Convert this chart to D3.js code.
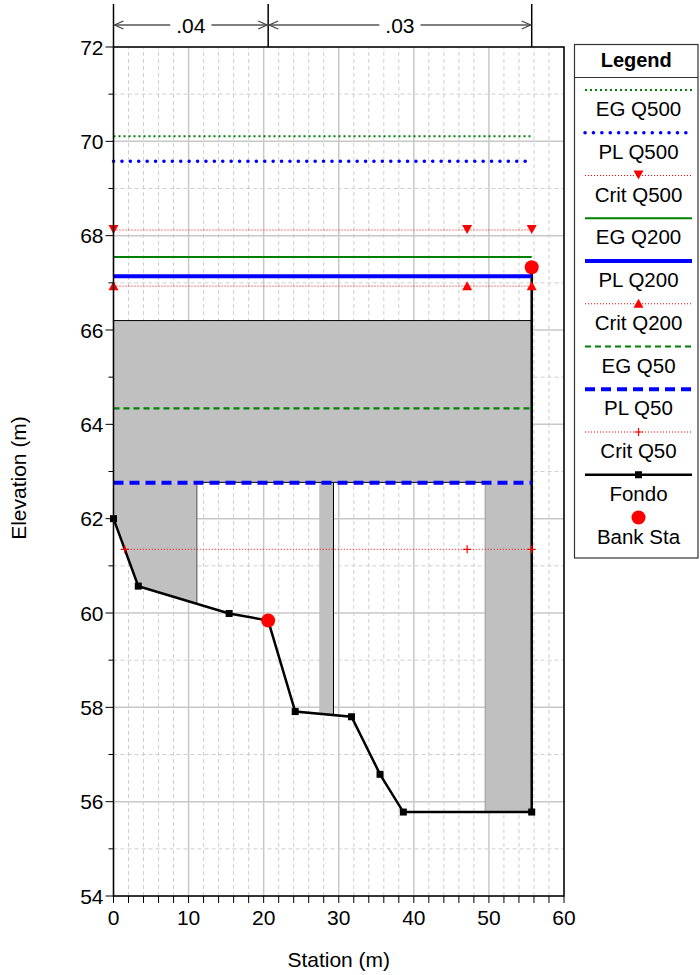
<!DOCTYPE html>
<html>
<head>
<meta charset="utf-8">
<script src="https://cdn.jsdelivr.net/npm/d3@7"></script>
<style>
  body { margin: 0; background: #fff; }
  svg text { font-family: "Liberation Sans", Arial, sans-serif; }
</style>
</head>
<body>
<svg id="chart" width="700" height="975"></svg>
<script>
// ground profile (Fondo)
const groundSta  = [0, 3.3, 15.4, 20.6, 24.2, 31.7, 35.5, 38.6, 55.7, 55.7];
const groundElev = [62.0, 60.57, 59.99, 59.84, 57.91, 57.8, 56.58, 55.78, 55.78, 67.33];

// bank stations
const bankSta  = [20.6, 55.7];
const bankElev = [59.84, 67.33];

// bridge deck, abutments and pier
const deckSta = [0, 55.7];
const highChord = 66.2;
const lowChord = 62.77;
const leftAbutSta = [0, 11.1];
const pierSta = [27.4, 29.3];
const rightAbutSta = [49.5, 55.7];

// water surfaces
const wsNames = ['EG Q500', 'PL Q500', 'Crit Q500', 'EG Q200', 'PL Q200', 'Crit Q200', 'EG Q50', 'PL Q50', 'Crit Q50'];
const wsElev  = [70.11, 69.58, 68.12, 67.55, 67.14, 66.93, 64.34, 62.76, 61.35];
const wsStart = [0, 0, 0, 0, 0, 0, 0, 0, 1.5];
const wsEnd   = 55.7;
const critMarkSta = [[0, 47.1, 55.7], [0, 47.1, 55.7], [1.5, 47.1, 55.7]];

// manning's n
const nBreaks = [0, 20.6, 55.7];
const nValues = ['.04', '.03'];

const xTicks = d3.range(0, 61, 10);
const yTicks = d3.range(54, 73, 2);

const svg = d3.select('#chart');
const x = d3.scaleLinear().domain([0, 60]).range([113.5, 564]);
const y = d3.scaleLinear().domain([54, 72]).range([896, 47]);

const gray = '#c0c0c0';
const styles = {
  'EG Q500':  {stroke: '#008000', width: 2, dash: '2,3'},
  'PL Q500':  {stroke: '#0000ff', width: 3.5, dash: '0.1,8.3', cap: 'round'},
  'Crit Q500':{stroke: '#ff0000', width: 1, dash: '1,2', mark: 'down'},
  'EG Q200':  {stroke: '#008000', width: 2},
  'PL Q200':  {stroke: '#0000ff', width: 4},
  'Crit Q200':{stroke: '#ff0000', width: 1, dash: '1,2', mark: 'up'},
  'EG Q50':   {stroke: '#008000', width: 2.2, dash: '6,4'},
  'PL Q50':   {stroke: '#0000ff', width: 4, dash: '10,6'},
  'Crit Q50': {stroke: '#ff0000', width: 1, dash: '1,2', mark: 'plus'}
};

function groundAt(s) {
  for (let i = 0; i < groundSta.length - 1; i++) {
    const a = groundSta[i], b = groundSta[i + 1];
    if (s >= a && s <= b && b > a) {
      return groundElev[i] + (groundElev[i + 1] - groundElev[i]) * (s - a) / (b - a);
    }
  }
  return groundElev[0];
}

// grid
const grid = svg.append('g');
d3.range(0, 61, 2).forEach(v => {
  grid.append('line').attr('x1', x(v)).attr('x2', x(v)).attr('y1', y(54)).attr('y2', y(72))
    .attr('stroke', v % 10 === 0 ? '#c8c8c8' : '#cfcfcf')
    .attr('stroke-width', v % 10 === 0 ? 1.5 : 1)
    .attr('stroke-dasharray', v % 10 === 0 ? null : '4,3');
});
d3.range(54, 73, 1).forEach(v => {
  grid.append('line').attr('x1', x(0)).attr('x2', x(60)).attr('y1', y(v)).attr('y2', y(v))
    .attr('stroke', v % 2 === 0 ? '#c8c8c8' : '#cfcfcf')
    .attr('stroke-width', v % 2 === 0 ? 1.5 : 1)
    .attr('stroke-dasharray', v % 2 === 0 ? null : '4,3');
});

// bridge
function profileBetween(a, b) {
  const pts = [[a, groundAt(a)]];
  groundSta.forEach((s, i) => { if (s > a && s < b) pts.push([s, groundElev[i]]); });
  pts.push([b, groundAt(b)]);
  return pts;
}
function abutPoly(a, b) {
  const bottom = profileBetween(a, b).reverse();
  return [[a, lowChord], [b, lowChord]].concat(bottom);
}
const line = d3.line().x(d => x(d[0])).y(d => y(d[1]));
const bridge = svg.append('g');
[leftAbutSta, pierSta, rightAbutSta].forEach(p => {
  bridge.append('path').attr('d', line(abutPoly(p[0], p[1])) + 'Z').attr('fill', gray);
});
bridge.append('rect').attr('x', x(deckSta[0])).attr('y', y(highChord))
  .attr('width', x(deckSta[1]) - x(deckSta[0])).attr('height', y(lowChord) - y(highChord))
  .attr('fill', gray);
bridge.append('line').attr('x1', x(deckSta[0])).attr('x2', x(deckSta[1]))
  .attr('y1', y(highChord)).attr('y2', y(highChord)).attr('stroke', '#000').attr('stroke-width', 1);
bridge.append('line').attr('x1', x(leftAbutSta[1])).attr('x2', x(rightAbutSta[0]))
  .attr('y1', y(lowChord)).attr('y2', y(lowChord)).attr('stroke', '#000').attr('stroke-width', 1);
bridge.append('line').attr('x1', x(leftAbutSta[1])).attr('x2', x(leftAbutSta[1]))
  .attr('y1', y(lowChord)).attr('y2', y(groundAt(leftAbutSta[1]))).attr('stroke', '#666').attr('stroke-width', 1.2);
bridge.append('line').attr('x1', x(pierSta[1])).attr('x2', x(pierSta[1]))
  .attr('y1', y(lowChord)).attr('y2', y(groundAt(pierSta[1]))).attr('stroke', '#000').attr('stroke-width', 1);
bridge.append('line').attr('x1', x(rightAbutSta[0])).attr('x2', x(rightAbutSta[0]))
  .attr('y1', y(lowChord)).attr('y2', y(groundAt(rightAbutSta[0]))).attr('stroke', '#999').attr('stroke-width', 1);

// markers
function marker(g, type, cx, cy, color) {
  if (type === 'down') {
    g.append('path').attr('d', `M${cx - 5},${cy - 5}L${cx + 5},${cy - 5}L${cx},${cy + 4}Z`).attr('fill', color);
  } else if (type === 'up') {
    g.append('path').attr('d', `M${cx - 5},${cy + 4}L${cx + 5},${cy + 4}L${cx},${cy - 5}Z`).attr('fill', color);
  } else if (type === 'plus') {
    g.append('path').attr('d', `M${cx - 4},${cy}H${cx + 4}M${cx},${cy - 4}V${cy + 4}`)
      .attr('stroke', color).attr('stroke-width', 1.2);
  } else if (type === 'square') {
    g.append('rect').attr('x', cx - 3.5).attr('y', cy - 3.5).attr('width', 7).attr('height', 7).attr('fill', color);
  } else if (type === 'circle') {
    g.append('circle').attr('cx', cx).attr('cy', cy).attr('r', 7).attr('fill', color);
  }
}

// ground line
const lines = svg.append('g');
lines.append('path').datum(groundSta.map((s, i) => [s, groundElev[i]]))
  .attr('d', line).attr('fill', 'none').attr('stroke', '#000').attr('stroke-width', 2.5)
  .attr('stroke-linejoin', 'miter');
groundSta.forEach((s, i) => marker(lines, 'square', x(s), y(groundElev[i]), '#000'));

// water surfaces
wsNames.forEach((name, i) => {
  const st = styles[name];
  lines.append('line').attr('x1', x(wsStart[i])).attr('x2', x(wsEnd))
    .attr('y1', y(wsElev[i])).attr('y2', y(wsElev[i]))
    .attr('stroke', st.stroke).attr('stroke-width', st.width)
    .attr('stroke-dasharray', st.dash || null)
    .attr('stroke-linecap', st.cap || 'butt');
});
[2, 5, 8].forEach((idx, k) => {
  const st = styles[wsNames[idx]];
  critMarkSta[k].forEach(s => marker(lines, st.mark, x(s), y(wsElev[idx]), '#ff0000'));
});

// bank stations
bankSta.forEach((s, i) => marker(lines, 'circle', x(s), y(bankElev[i]), '#ff0000'));

// frame
svg.append('rect').attr('x', x(0)).attr('y', y(72)).attr('width', x(60) - x(0)).attr('height', y(54) - y(72))
  .attr('fill', 'none').attr('stroke', '#000').attr('stroke-width', 1.5);

// axes
const yAxis = svg.append('g').attr('transform', `translate(${x(0)},0)`);
d3.range(54, 73, 1).forEach(v => {
  yAxis.append('line').attr('x1', v % 2 === 0 ? -8 : -5).attr('x2', 0).attr('y1', y(v)).attr('y2', y(v))
    .attr('stroke', '#000').attr('stroke-width', 1);
});
yAxis.selectAll('text.tick').data(yTicks).join('text')
  .attr('x', -10).attr('y', d => y(d)).attr('dy', '0.36em')
  .attr('text-anchor', 'end').attr('font-size', 21).text(d => d);

const xAxis = svg.append('g').attr('transform', `translate(0,${y(54)})`);
d3.range(0, 61, 2).forEach(v => {
  xAxis.append('line').attr('x1', x(v)).attr('x2', x(v)).attr('y1', 0).attr('y2', 7)
    .attr('stroke', '#000').attr('stroke-width', 1);
});
xAxis.selectAll('text.tick').data(xTicks).join('text')
  .attr('x', d => x(d)).attr('y', 29)
  .attr('text-anchor', 'middle').attr('font-size', 21).text(d => d);

svg.append('text').attr('x', (x(0) + x(60)) / 2).attr('y', 967).attr('text-anchor', 'middle')
  .attr('font-size', 21).text('Station (m)');
svg.append('text').attr('transform', 'translate(26,478) rotate(-90)').attr('text-anchor', 'middle')
  .attr('font-size', 21).text('Elevation (m)');

// manning's n annotation
const nG = svg.append('g');
const arrowY = 25;
nBreaks.forEach(s => {
  nG.append('line').attr('x1', x(s)).attr('x2', x(s)).attr('y1', 4).attr('y2', y(72))
    .attr('stroke', '#000').attr('stroke-width', 1.5);
});
function chevron(px, dir) {
  nG.append('path').attr('d', `M${px + dir * 9},${arrowY - 4}L${px},${arrowY}L${px + dir * 9},${arrowY + 4}`)
    .attr('fill', 'none').attr('stroke', '#444').attr('stroke-width', 1.2);
}
nValues.forEach((v, i) => {
  const a = x(nBreaks[i]), b = x(nBreaks[i + 1]), mid = (a + b) / 2;
  const t = nG.append('text').attr('x', mid).attr('y', arrowY).attr('dy', '0.36em')
    .attr('text-anchor', 'middle').attr('font-size', 21).text(v);
  const w = t.node().getComputedTextLength();
  nG.append('line').attr('x1', a + 1).attr('x2', mid - w / 2 - 6).attr('y1', arrowY).attr('y2', arrowY)
    .attr('stroke', '#000').attr('stroke-width', 1);
  nG.append('line').attr('x1', mid + w / 2 + 6).attr('x2', b - 1).attr('y1', arrowY).attr('y2', arrowY)
    .attr('stroke', '#000').attr('stroke-width', 1);
  chevron(a + 1, 1);
  chevron(b - 1, -1);
});

// legend
const lg = svg.append('g');
const lgX0 = 574.5, lgX1 = 698, lgTop = 44.5, lgBot = 558;
lg.append('rect').attr('x', lgX0).attr('y', lgTop).attr('width', lgX1 - lgX0).attr('height', lgBot - lgTop)
  .attr('fill', '#fff').attr('stroke', '#333').attr('stroke-width', 1.2);
lg.append('text').attr('x', (lgX0 + lgX1) / 2).attr('y', 67).attr('text-anchor', 'middle')
  .attr('font-size', 20).attr('font-weight', 'bold').text('Legend');
lg.append('line').attr('x1', lgX0).attr('x2', lgX1).attr('y1', 77.5).attr('y2', 77.5)
  .attr('stroke', '#333').attr('stroke-width', 1);
const legendItems = wsNames.concat(['Fondo', 'Bank Sta']);
const lx0 = 585, lx1 = 692, lmid = 638.5;
legendItems.forEach((name, i) => {
  const ly = 90 + i * 42.75;
  const st = styles[name];
  if (st) {
    lg.append('line').attr('x1', lx0).attr('x2', lx1).attr('y1', ly).attr('y2', ly)
      .attr('stroke', st.stroke).attr('stroke-width', st.width)
      .attr('stroke-dasharray', st.dash || null).attr('stroke-linecap', st.cap || 'butt');
    if (st.mark) marker(lg, st.mark, lmid, ly, '#ff0000');
  } else if (name === 'Fondo') {
    lg.append('line').attr('x1', lx0).attr('x2', lx1).attr('y1', ly).attr('y2', ly)
      .attr('stroke', '#000').attr('stroke-width', 2.5);
    marker(lg, 'square', lmid, ly, '#000');
  } else {
    marker(lg, 'circle', lmid, ly, '#ff0000');
  }
  lg.append('text').attr('x', lmid).attr('y', ly + 26).attr('text-anchor', 'middle')
    .attr('font-size', 20.5).text(name);
});
</script>
</body>
</html>
